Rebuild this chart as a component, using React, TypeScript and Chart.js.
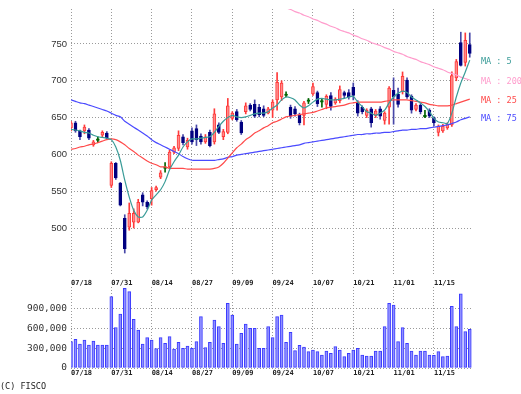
import React, { useEffect, useRef } from 'react';
import { Chart, registerables } from 'chart.js';

Chart.register(...registerables);

// ---- data ----
const xTickIndex = [0, 9, 18, 27, 36, 45, 54, 63, 72, 81];
const xTickLabels = ['07/18', '07/31', '08/14', '08/27', '09/09', '09/24', '10/07', '10/21', '11/01', '11/15'];
const priceTicks = [500, 550, 600, 650, 700, 750];
const volumeTicks = [0, 300000, 600000, 900000];

const opens = [
  636, 643, 632, 632, 633, 613, 620, 626, 629, 558,
  588, 561, 513, 501, 508, 508, 545, 535, 540, 552,
  569, 582, 583, 603, 608, 624, 610, 632, 635, 625,
  617, 630, 617, 640, 624, 630, 649, 658, 644, 658,
  667, 668, 664, 662, 656, 660, 674, 678, 681, 664,
  662, 653, 653, 673, 682, 684, 672, 668, 680, 670,
  673, 684, 684, 691, 670, 664, 653, 662, 653, 662,
  646, 664, 687, 682, 685, 701, 679, 661, 667, 652,
  660, 650, 630, 632, 636, 640, 704, 752, 725, 749,
];
const highs = [
  645, 645, 633, 640, 635, 619, 624, 632, 631, 590,
  589, 562, 518, 534, 526, 539, 548, 537, 555, 557,
  578, 589, 606, 611, 632, 627, 622, 636, 640, 628,
  627, 633, 662, 643, 634, 676, 658, 661, 646, 670,
  669, 674, 668, 666, 664, 674, 711, 700, 685, 667,
  665, 656, 672, 676, 697, 686, 675, 681, 684, 677,
  693, 686, 688, 697, 673, 666, 662, 664, 661, 665,
  658, 692, 704, 690, 712, 704, 681, 669, 669, 660,
  662, 651, 640, 641, 643, 712, 729, 766, 765, 765,
];
const lows = [
  632, 630, 620, 628, 620, 611, 616, 623, 620, 555,
  566, 530, 466, 497, 500, 507, 530, 526, 531, 550,
  567, 576, 581, 601, 605, 613, 607, 614, 612, 614,
  615, 610, 614, 628, 620, 628, 647, 645, 627, 655,
  659, 650, 651, 651, 655, 650, 660, 673, 678, 649,
  652, 640, 640, 669, 680, 665, 664, 662, 660, 668,
  670, 677, 675, 674, 652, 655, 650, 637, 650, 648,
  641, 641, 641, 664, 682, 676, 656, 659, 655, 650,
  650, 639, 625, 630, 634, 638, 700, 720, 720, 732,
];
const closes = [
  643, 632, 624, 637, 622, 617, 620, 630, 622, 588,
  568, 531, 472, 520, 520, 535, 535, 529, 551, 555,
  575, 582, 603, 609, 626, 616, 619, 617, 620, 617,
  624, 612, 655, 630, 631, 666, 656, 647, 629, 666,
  661, 652, 654, 653, 662, 671, 698, 697, 681, 652,
  655, 643, 670, 673, 692, 669, 672, 679, 665, 675,
  688, 680, 678, 680, 656, 658, 660, 643, 659, 652,
  656, 690, 678, 668, 706, 678, 660, 667, 658, 652,
  652, 643, 638, 638, 641, 707, 726, 721, 755, 737,
];
const volumes = [
  401000, 437000, 366000, 427000, 351000, 412000, 351000, 351000, 351000, 1088000,
  615000, 824000, 1216000, 1164000, 742000, 580000, 366000, 463000, 427000, 295000,
  463000, 376000, 478000, 290000, 392000, 300000, 336000, 300000, 401000, 783000,
  310000, 392000, 732000, 630000, 376000, 987000, 808000, 366000, 529000, 671000,
  605000, 605000, 300000, 300000, 630000, 463000, 783000, 808000, 392000, 544000,
  264000, 346000, 320000, 249000, 275000, 249000, 198000, 259000, 224000, 325000,
  275000, 173000, 224000, 275000, 300000, 198000, 183000, 183000, 259000, 259000,
  630000, 987000, 961000, 401000, 615000, 376000, 259000, 198000, 259000, 259000,
  198000, 193000, 249000, 173000, 183000, 941000, 630000, 1129000, 554000, 590000,
];
const ma5 = [
  634, 633, 632, 630, 629, 626, 624, 623, 622, 620,
  610, 592, 565, 542, 524, 515, 515, 524, 538, 545,
  552, 563, 579, 590, 599, 610, 617, 621, 621, 622,
  623, 624, 630, 638, 645, 650, 653, 651, 650, 651,
  653, 655, 656, 656, 658, 663, 667, 674, 678, 677,
  674, 667, 663, 666, 671, 675, 676, 675, 674, 674,
  675, 676, 678, 679, 671, 665, 658, 656, 653, 656,
  660, 670, 678, 683, 686, 684, 678, 674, 670, 665,
  658, 649, 644, 643, 642, 656, 678, 697, 712, 728,
];
const ma25 = [
  607, 608, 610, 611, 613, 614, 616, 618, 620, 621,
  620, 617, 613, 608, 604, 599, 595, 591, 588, 586,
  583, 583, 581, 581, 581, 581, 580, 580, 580, 580,
  580, 580, 581, 583, 588, 595, 602, 609, 614, 620,
  624, 629, 632, 636, 639, 643, 645, 648, 651, 652,
  653, 654, 655, 656, 657, 659, 661, 663, 664, 665,
  666, 667, 669, 670, 671, 671, 671, 671, 671, 671,
  672, 673, 674, 674, 674, 674, 673, 672, 671, 670,
  668, 667, 666, 666, 666, 667, 669, 671, 673, 675,
];
const ma75 = [
  674, 672, 670, 669, 667, 665, 663, 661, 659, 656,
  653, 651, 645, 641, 637, 633, 629, 625, 620, 616,
  613, 610, 607, 604, 601, 597, 594, 592, 592, 592,
  592, 592, 592, 593, 594, 596, 597, 599, 600, 601,
  602, 603, 604, 605, 606, 607, 608, 609, 610, 611,
  612, 613, 615, 616, 617, 618, 619, 620, 621, 622,
  623, 624, 625, 626, 627, 627, 628, 628, 629, 629,
  630, 630, 631, 632, 633, 633, 634, 634, 635, 635,
  636, 637, 638, 639, 640, 642, 644, 647, 649, 651,
];
const ma200Start = 45;
const ma200 = [
  807, 804, 802, 799, 797, 794, 792, 789, 787, 784,
  782, 779, 777, 774, 772, 769, 767, 765, 762, 760,
  757, 755, 752, 750, 748, 745, 743, 740, 738, 736,
  733, 731, 729, 726, 724, 722, 719, 717, 715, 712,
  710, 708, 705, 703, 701,
];

// ---- styling ----
const GRID = '#9a9a9a';
const UP_FILL = '#ff8a8a';
const UP_LINE = '#ff3a3a';
const DOWN = '#000080';
const DOWN_WICK = '#4848a8';
const EVEN = '#006400';

const dir = (i: number) => (closes[i] > opens[i] ? 1 : closes[i] < opens[i] ? -1 : 0);

const zeroPad = (s: any) => {
  s.paddingLeft = 0;
  s.paddingRight = 0;
  s.paddingTop = 0;
  s.paddingBottom = 0;
};

const xScale = (height: number, pad: number) => ({
  type: 'linear' as const,
  min: 0,
  max: 89.5,
  offset: false,
  afterBuildTicks: (s: any) => {
    s.ticks = xTickIndex.map((v) => ({ value: v }));
  },
  afterFit: (s: any) => {
    s.height = height;
    zeroPad(s);
  },
  ticks: {
    align: 'start' as const,
    maxRotation: 0,
    autoSkip: false,
    padding: pad,
    color: '#222',
    font: { family: '"DejaVu Sans Mono", monospace', size: 7, weight: 'bold' as const },
    callback: (v: any) => {
      const k = xTickIndex.indexOf(Number(v));
      return k >= 0 ? xTickLabels[k] : '';
    },
  },
  grid: { color: GRID, drawTicks: false, offset: false, lineWidth: 1 },
  border: { display: false, dash: [1, 2] },
});

export default function App() {
  const priceRef = useRef<HTMLCanvasElement>(null);
  const volRef = useRef<HTMLCanvasElement>(null);

  useEffect(() => {
    const bodyData = opens.map((o, i) => {
      let lo = Math.min(o, closes[i]);
      let hi = Math.max(o, closes[i]);
      if (hi - lo < 2) {
        const m = (hi + lo) / 2;
        lo = m - 1;
        hi = m + 1;
      }
      return { x: i, y: [lo, hi] };
    });
    const wickData = highs.map((h, i) => ({ x: i, y: [lows[i], h] }));

    const maLabels = [
      { label: 'MA : 5', color: '#3a9c98', data: ma5.map((v, i) => ({ x: i, y: v })) },
      { label: 'MA : 200', color: '#ff9ccc', data: ma200.map((v, k) => ({ x: ma200Start + k, y: v })) },
      { label: 'MA : 25', color: '#ff4a4a', data: ma25.map((v, i) => ({ x: i, y: v })) },
      { label: 'MA : 75', color: '#4a4aff', data: ma75.map((v, i) => ({ x: i, y: v })) },
    ];

    const legendPlugin = {
      id: 'maLegend',
      afterDraw(chart: any) {
        const ctx = chart.ctx;
        const y = chart.scales.y;
        ctx.save();
        ctx.font = '8.5px "DejaVu Sans Mono", monospace';
        ctx.textBaseline = 'middle';
        ctx.textAlign = 'left';
        maLabels.forEach((m) => {
          const last = m.data[m.data.length - 1].y;
          ctx.fillStyle = m.color;
          ctx.fillText(m.label, 481, y.getPixelForValue(last) + 2);
        });
        ctx.restore();
      },
    };

    const c1 = new Chart(priceRef.current as HTMLCanvasElement, {
      type: 'line',
      data: {
        datasets: [
          ...maLabels.map((m) => ({
            type: 'line' as const,
            label: m.label,
            data: m.data,
            borderColor: m.color,
            borderWidth: 1.2,
            pointRadius: 0,
            tension: 0.2,
            fill: false,
          })),
          {
            type: 'bar' as const,
            label: 'body',
            data: bodyData as any,
            grouped: false,
            barThickness: 3,
            borderWidth: 1,
            borderSkipped: false,
            backgroundColor: (c: any) => {
              const d = dir(c.dataIndex);
              return d > 0 ? UP_FILL : d < 0 ? DOWN : EVEN;
            },
            borderColor: (c: any) => {
              const d = dir(c.dataIndex);
              return d > 0 ? UP_LINE : d < 0 ? DOWN : EVEN;
            },
          },
          {
            type: 'bar' as const,
            label: 'wick',
            data: wickData as any,
            grouped: false,
            barThickness: 1,
            borderWidth: 0,
            backgroundColor: (c: any) => {
              const d = dir(c.dataIndex);
              return d > 0 ? UP_LINE : d < 0 ? DOWN_WICK : EVEN;
            },
          },
        ],
      },
      options: {
        animation: false,
        responsive: false,
        devicePixelRatio: 1,
        events: [],
        layout: { padding: { left: 0, top: 9, right: 49, bottom: 0 } },
        plugins: { legend: { display: false }, tooltip: { enabled: false } },
        scales: {
          x: xScale(118, 3) as any,
          y: {
            type: 'linear',
            min: 434.8,
            max: 797.5,
            afterBuildTicks: (s: any) => {
              s.ticks = priceTicks.map((v) => ({ value: v }));
            },
            afterFit: (s: any) => {
              s.width = 71;
              zeroPad(s);
            },
            ticks: {
              padding: 4,
              color: '#333',
              font: { family: '"Liberation Sans", Arial, sans-serif', size: 9.5 },
              callback: (v: any) => String(v),
            },
            grid: { color: GRID, drawTicks: false, lineWidth: 1 },
            border: { display: false, dash: [1, 2] },
          },
        },
      },
      plugins: [legendPlugin],
    });

    const footPlugin = {
      id: 'foot',
      afterDraw(chart: any) {
        const ctx = chart.ctx;
        ctx.save();
        ctx.font = '8.5px "DejaVu Sans Mono", monospace';
        ctx.fillStyle = '#222';
        ctx.textBaseline = 'middle';
        ctx.textAlign = 'left';
        ctx.fillText('(C) FISCO', 0, 387);
        ctx.restore();
      },
    };

    const c2 = new Chart(volRef.current as HTMLCanvasElement, {
      type: 'bar',
      data: {
        datasets: [
          {
            label: 'volume',
            data: volumes.map((v, i) => ({ x: i, y: v })) as any,
            grouped: false,
            barThickness: 3,
            borderWidth: 1,
            borderSkipped: false,
            backgroundColor: '#9090ff',
            borderColor: '#3a3aff',
          },
        ],
      },
      options: {
        animation: false,
        responsive: false,
        devicePixelRatio: 1,
        events: [],
        layout: { padding: { left: 0, top: 287, right: 49, bottom: 0 } },
        plugins: { legend: { display: false }, tooltip: { enabled: false } },
        scales: {
          x: xScale(26, 1) as any,
          y: {
            type: 'linear',
            min: 0,
            max: 1235000,
            afterBuildTicks: (s: any) => {
              s.ticks = volumeTicks.map((v) => ({ value: v }));
            },
            afterFit: (s: any) => {
              s.width = 71;
              zeroPad(s);
            },
            ticks: {
              padding: 4,
              color: '#333',
              font: { family: '"DejaVu Sans Mono", monospace', size: 9.5 },
              callback: (v: any) => Number(v).toLocaleString('en-US'),
            },
            grid: { color: GRID, drawTicks: false, lineWidth: 1 },
            border: { display: false, dash: [1, 2] },
          },
        },
      },
      plugins: [footPlugin],
    });

    return () => {
      c1.destroy();
      c2.destroy();
    };
  }, []);

  return (
    <div style={{ position: 'absolute', left: 0, top: 0, width: 521, height: 394, background: '#fff' }}>
      <canvas ref={priceRef} width={521} height={394} style={{ position: 'absolute', left: 0, top: 0 }} />
      <canvas ref={volRef} width={521} height={394} style={{ position: 'absolute', left: 0, top: 0 }} />
    </div>
  );
}
